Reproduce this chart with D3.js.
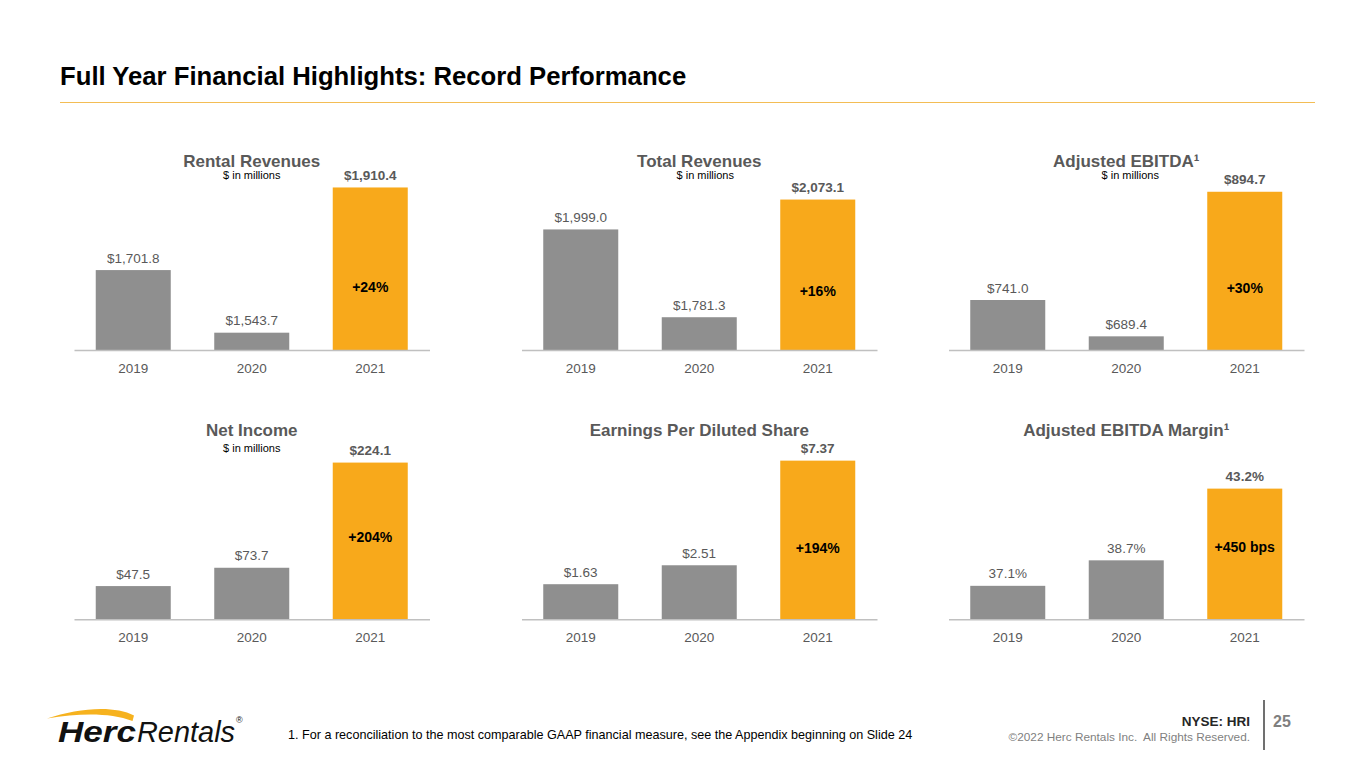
<!DOCTYPE html>
<html lang="en">
<head>
<meta charset="UTF-8"/>
<title>Full Year Financial Highlights: Record Performance</title>
<script src="https://d3js.org/d3.v7.min.js"></script>
<style>
  body { margin: 0; background: #fff; }
  svg { display: block; font-family: "Liberation Sans", Arial, sans-serif; }
</style>
</head>
<body>
<script>
// Chart data
var years = ["2019", "2020", "2021"];
var panelTitles = ["Rental Revenues", "Total Revenues", "Adjusted EBITDA\u00B9",
                   "Net Income", "Earnings Per Diluted Share", "Adjusted EBITDA Margin\u00B9"];
var rentalRevenues = [1701.8, 1543.7, 1910.4];
var totalRevenues  = [1999.0, 1781.3, 2073.1];
var adjustedEbitda = [741.0, 689.4, 894.7];
var netIncome      = [47.5, 73.7, 224.1];
var dilutedEps     = [1.63, 2.51, 7.37];
var ebitdaMargin   = [37.1, 38.7, 43.2];
var growthLabels   = ["+24%", "+16%", "+30%", "+204%", "+194%", "+450 bps"];
var axisMin        = [1500, 1700, 670, 0, 0, 35];
var axisMax        = [2005, 2196, 954, 286, 9.29, 47.55];
var showUnits      = [true, true, true, true, false, false];

var w = 1365, h = 769;
var grayText = "#595959";
var barGray = "#8f8f8f";
var barGold = "#f8a91b";

var money1 = function(v) { return "$" + d3.format(",.1f")(v); };
var money2 = function(v) { return "$" + d3.format(".2f")(v); };
var pct1 = function(v) { return d3.format(".1f")(v) + "%"; };

var series = [rentalRevenues, totalRevenues, adjustedEbitda, netIncome, dilutedEps, ebitdaMargin];
var formats = [money1, money1, money1, money1, money2, pct1];

// layout
var colX = [74, 521.5, 948.5];
var colW = 355.5;
var rowBase = [350, 619.3];
var plotH = 200;
var titleY = [161.7, 430.7];
var unitsY = [175, 448];
var unitsDx = [0, 6, 4];
var growthUp = [63, 59, 62, 82, 71, 72];

var svg = d3.select("body").append("svg")
    .attr("width", w)
    .attr("height", h);

// page title + rule
svg.append("text")
    .attr("x", 60)
    .attr("y", 85)
    .attr("font-size", "25.7px")
    .attr("font-weight", "bold")
    .attr("fill", "#000")
    .text("Full Year Financial Highlights: Record Performance");

svg.append("line")
    .attr("x1", 60).attr("x2", 1315)
    .attr("y1", 102.5).attr("y2", 102.5)
    .attr("stroke", "#f3bd55")
    .attr("stroke-width", 1.2);

series.forEach(function(values, i) {
    var col = i % 3, row = Math.floor(i / 3);
    var x0 = colX[col], base = rowBase[row];
    var cx = x0 + colW / 2;

    var xScale = d3.scaleBand()
        .domain(years)
        .range([x0, x0 + colW])
        .paddingInner(0.367)
        .paddingOuter(0.1835);

    var yScale = d3.scaleLinear()
        .domain([axisMin[i], axisMax[i]])
        .range([base, base - plotH]);

    var g = svg.append("g");

    g.append("text")
        .attr("x", cx)
        .attr("y", titleY[row])
        .attr("text-anchor", "middle")
        .attr("dominant-baseline", "central")
        .attr("font-size", "17px")
        .attr("font-weight", "bold")
        .attr("fill", grayText)
        .text(panelTitles[i]);

    if (showUnits[i]) {
        g.append("text")
            .attr("x", cx + unitsDx[col])
            .attr("y", unitsY[row])
            .attr("text-anchor", "middle")
            .attr("dominant-baseline", "central")
            .attr("font-size", "11px")
            .attr("fill", "#000")
            .text("$ in millions");
    }

    var data = years.map(function(y, k) { return { year: y, value: values[k], last: k === years.length - 1 }; });

    g.selectAll("rect")
        .data(data)
        .enter()
        .append("rect")
        .attr("x", function(d) { return xScale(d.year); })
        .attr("width", xScale.bandwidth())
        .attr("y", function(d) { return yScale(d.value); })
        .attr("height", function(d) { return base - yScale(d.value); })
        .attr("fill", function(d) { return d.last ? barGold : barGray; });

    g.selectAll("text.value")
        .data(data)
        .enter()
        .append("text")
        .attr("class", "value")
        .attr("x", function(d) { return xScale(d.year) + xScale.bandwidth() / 2; })
        .attr("y", function(d) { return yScale(d.value) - 12; })
        .attr("text-anchor", "middle")
        .attr("dominant-baseline", "central")
        .attr("font-size", "13.5px")
        .attr("font-weight", function(d) { return d.last ? "bold" : "normal"; })
        .attr("fill", grayText)
        .text(function(d) { return formats[i](d.value); });

    // growth label inside the 2021 bar
    g.append("text")
        .attr("x", xScale(years[2]) + xScale.bandwidth() / 2)
        .attr("y", base - growthUp[i])
        .attr("text-anchor", "middle")
        .attr("dominant-baseline", "central")
        .attr("font-size", "14px")
        .attr("font-weight", "bold")
        .attr("fill", "#000")
        .text(growthLabels[i]);

    // category axis
    var axis = g.append("g")
        .attr("transform", "translate(0," + base + ")")
        .call(d3.axisBottom(xScale).tickSize(0).tickSizeOuter(0));
    axis.select(".domain")
        .attr("stroke", "#c0c0c0")
        .attr("stroke-width", 1.6);
    axis.selectAll(".tick text")
        .attr("y", 18)
        .attr("dy", "0.35em")
        .attr("font-size", "13.5px")
        .attr("font-family", "\"Liberation Sans\", Arial, sans-serif")
        .attr("fill", grayText);
});

// footer: logo
var logo = svg.append("g");
logo.append("path")
    .attr("d", "M47,718.5 C78,708 114,705 134,715.5 L132.5,721 C110,712.5 80,713 47,718.5 Z")
    .attr("fill", "#f6b21e");
logo.append("text")
    .attr("x", 58).attr("y", 742)
    .attr("font-size", "29px")
    .attr("font-weight", "bold")
    .attr("font-style", "italic")
    .attr("fill", "#111")
    .attr("textLength", 78)
    .attr("lengthAdjust", "spacingAndGlyphs")
    .text("Herc");
logo.append("text")
    .attr("x", 137).attr("y", 742)
    .attr("font-size", "29px")
    .attr("font-style", "italic")
    .attr("fill", "#111")
    .attr("textLength", 98)
    .attr("lengthAdjust", "spacingAndGlyphs")
    .text("Rentals");
logo.append("text")
    .attr("x", 236).attr("y", 723)
    .attr("font-size", "9px")
    .attr("fill", "#111")
    .text("\u00AE");

// footnote
svg.append("text")
    .attr("x", 288).attr("y", 735)
    .attr("dominant-baseline", "central")
    .attr("font-size", "12.6px")
    .attr("fill", "#000")
    .text("1. For a reconciliation to the most comparable GAAP financial measure, see the Appendix beginning on Slide 24");

svg.append("text")
    .attr("x", 1250).attr("y", 726)
    .attr("text-anchor", "end")
    .attr("font-size", "13.5px")
    .attr("font-weight", "bold")
    .attr("fill", "#262626")
    .text("NYSE: HRI");

svg.append("text")
    .attr("x", 1250).attr("y", 741)
    .attr("text-anchor", "end")
    .attr("font-size", "11.8px")
    .attr("fill", "#7f7f7f")
    .style("white-space", "pre")
    .text("\u00A92022 Herc Rentals Inc.  All Rights Reserved.");

svg.append("line")
    .attr("x1", 1264).attr("x2", 1264)
    .attr("y1", 700).attr("y2", 750)
    .attr("stroke", "#404040")
    .attr("stroke-width", 1.5);

svg.append("text")
    .attr("x", 1273).attr("y", 727)
    .attr("font-size", "16px")
    .attr("font-weight", "bold")
    .attr("fill", "#7f7f7f")
    .text("25");
</script>
</body>
</html>
